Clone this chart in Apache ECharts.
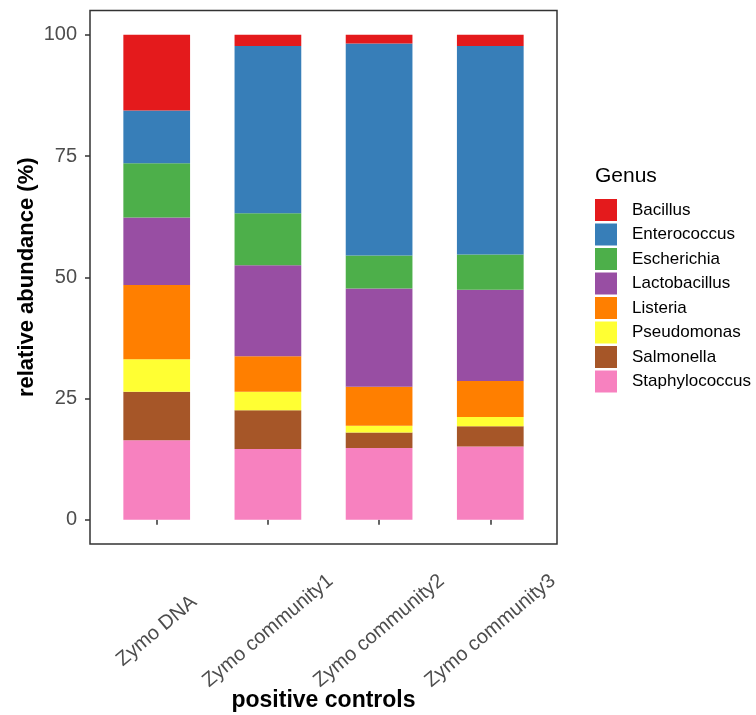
<!DOCTYPE html>
<html>
<head>
<meta charset="utf-8">
<script src="https://cdn.jsdelivr.net/npm/echarts@6/dist/echarts.min.js"></script>
<style>html,body{margin:0;padding:0;background:#fff}#c{width:756px;height:715px}</style>
</head>
<body>
<div id="c"></div>
<script>
const categories = ['Zymo DNA', 'Zymo community1', 'Zymo community2', 'Zymo community3'];
const legendOrder = ['Bacillus', 'Enterococcus', 'Escherichia', 'Lactobacillus', 'Listeria', 'Pseudomonas', 'Salmonella', 'Staphylococcus'];
const yTicks = [0, 25, 50, 75, 100];

// values per genus (%), one per category
const Staphylococcus = [16.4, 14.6, 14.8, 15.1];
const Salmonella     = [10.0, 8.0, 3.2, 4.2];
const Pseudomonas    = [6.7, 3.8, 1.4, 1.9];
const Listeria       = [15.3, 7.3, 8.0, 7.4];
const Lactobacillus  = [13.9, 18.8, 20.3, 18.8];
const Escherichia    = [11.2, 10.7, 6.8, 7.3];
const Enterococcus   = [10.9, 34.5, 43.7, 43.0];
const Bacillus       = [15.6, 2.3, 1.8, 2.3];

const colors = {
  Bacillus: '#E41A1C', Enterococcus: '#377EB8', Escherichia: '#4DAF4A', Lactobacillus: '#984EA3',
  Listeria: '#FF7F00', Pseudomonas: '#FFFF33', Salmonella: '#A65628', Staphylococcus: '#F781BF'
};
// bottom to top stacking
const stackOrder = [
  ['Staphylococcus', Staphylococcus], ['Salmonella', Salmonella], ['Pseudomonas', Pseudomonas],
  ['Listeria', Listeria], ['Lactobacillus', Lactobacillus], ['Escherichia', Escherichia],
  ['Enterococcus', Enterococcus], ['Bacillus', Bacillus]
];
const xPos = categories.map((c, i) => i + 1);

const FONT = '"Liberation Sans", Arial, sans-serif';
// frame panel (ggplot-style expanded range) and inner data panel sharing the same scale
const FRAME = {left: 90, top: 10.5, width: 467, height: 533.5};
const Y_MIN = -5, Y_MAX = 105, X_MIN = 0.4, X_MAX = 4.6;
const pxY = FRAME.height / (Y_MAX - Y_MIN);
const pxX = FRAME.width / (X_MAX - X_MIN);
const INNER = {
  left: FRAME.left + (0.5 - X_MIN) * pxX,
  width: categories.length * pxX,
  top: FRAME.top + (Y_MAX - 100) * pxY,
  height: 100 * pxY
};

const chart = echarts.init(document.getElementById('c'), null, {renderer: 'canvas'});
chart.setOption({
  animation: false,
  backgroundColor: '#fff',
  textStyle: {fontFamily: FONT},
  title: {
    text: 'Genus', left: 595, top: 166, padding: 0,
    textStyle: {fontFamily: FONT, fontSize: 21, fontWeight: 'normal', color: '#000'}
  },
  legend: {
    data: legendOrder, orient: 'vertical', left: 595, top: 199, padding: 0,
    itemWidth: 22, itemHeight: 22, itemGap: 2.5, icon: 'rect',
    textStyle: {fontFamily: FONT, fontSize: 17, color: '#000', padding: [0, 0, 0, 10]}
  },
  grid: [
    Object.assign({show: false, outerBoundsMode: 'none', containLabel: false}, INNER),
    Object.assign({show: true, borderColor: '#333', borderWidth: 1.5, backgroundColor: 'transparent',
      outerBoundsMode: 'none', containLabel: false}, FRAME)
  ],
  xAxis: [
    {type: 'category', gridIndex: 0, data: categories, show: false},
    {
      type: 'value', gridIndex: 1, min: X_MIN, max: X_MAX,
      axisLine: {show: false}, splitLine: {show: false},
      axisTick: {show: true, customValues: xPos, length: 5, lineStyle: {color: '#333', width: 1.5}},
      axisLabel: {customValues: xPos, formatter: v => categories[Math.round(v) - 1],
        rotate: 40, align: 'center', verticalAlign: 'middle', margin: 87,
        fontSize: 20, color: '#4d4d4d', fontFamily: FONT},
      name: 'positive controls', nameLocation: 'middle', nameGap: 145, nameMoveOverlap: false,
      nameTextStyle: {fontSize: 23, fontWeight: 'bold', color: '#000', fontFamily: FONT}
    }
  ],
  yAxis: [
    {type: 'value', gridIndex: 0, min: 0, max: 100, show: false},
    {
      type: 'value', gridIndex: 1, min: Y_MIN, max: Y_MAX,
      axisLine: {show: false}, splitLine: {show: false},
      axisTick: {show: true, customValues: yTicks, length: 5, lineStyle: {color: '#333', width: 1.5}},
      axisLabel: {customValues: yTicks, margin: 13, fontSize: 20, color: '#4d4d4d', fontFamily: FONT},
      name: 'relative abundance (%)', nameLocation: 'middle', nameGap: 52, nameRotate: 90, nameMoveOverlap: false,
      nameTextStyle: {fontSize: 22, fontWeight: 'bold', color: '#000', fontFamily: FONT}
    }
  ],
  series: stackOrder.map(([name, vals]) => ({
    name, type: 'bar', stack: 'all', xAxisIndex: 0, yAxisIndex: 0,
    barWidth: '60%', data: vals,
    itemStyle: {color: colors[name]},
    emphasis: {disabled: true}
  }))
});
</script>
</body>
</html>
